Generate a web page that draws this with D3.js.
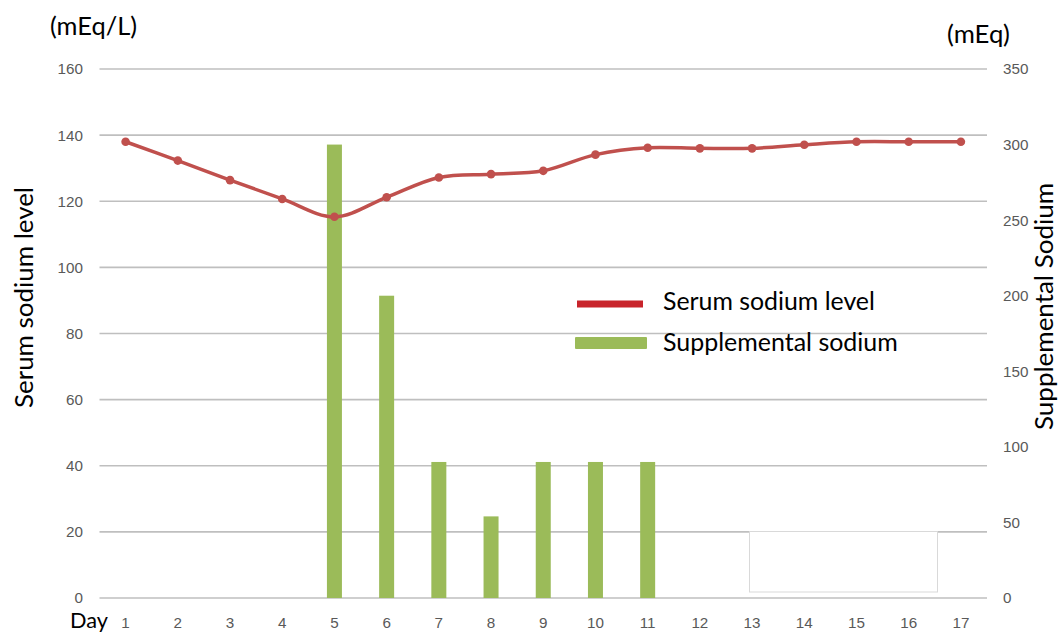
<!DOCTYPE html>
<html>
<head>
<meta charset="utf-8">
<script src="https://cdn.jsdelivr.net/npm/d3@7"></script>
<style>
  html, body { margin: 0; padding: 0; background: #fff; }
  svg { display: block; font-family: Lato, "Open Sans", sans-serif; }
</style>
</head>
<body>
<svg id="chart" width="1060" height="632"></svg>
<script>
// ---- data ----
const days = [1, 2, 3, 4, 5, 6, 7, 8, 9, 10, 11, 12, 13, 14, 15, 16, 17];
const serumSodium = [138, 132.3, 126.4, 120.7, 115.3, 121.2, 127.2, 128.2, 129.2, 134.1, 136.2, 136, 136, 137.1, 138, 138, 138];
const supplementalSodium = [0, 0, 0, 0, 300, 200, 90, 54, 90, 90, 90, 0, 0, 0, 0, 0, 0];
const leftTicks = [0, 20, 40, 60, 80, 100, 120, 140, 160];
const rightTicks = [0, 50, 100, 150, 200, 250, 300, 350];
const seriesNames = ["Serum sodium level", "Supplemental sodium"];

// ---- layout ----
const svg = d3.select("#chart");
const plot = { left: 99.5, right: 987, top: 69, bottom: 598 };
const red = "#C0504D", green = "#9BBB59", grid = "#BFBFBF", tickCol = "#595959";

// size a text so that it spans the given width
function fit(sel, target) {
  const base = 20;
  sel.style("font-size", base + "px");
  const w = sel.node().getComputedTextLength();
  const fs = base * target / w;
  sel.style("font-size", fs + "px");
  return fs;
}

const x = d3.scaleBand().domain(days).range([plot.left, plot.right]).padding(0);
const yL = d3.scaleLinear().domain([0, 160]).range([plot.bottom, plot.top]);
const yR = d3.scaleLinear().domain([0, 350]).range([plot.bottom, plot.top]);

// tick font size from a probe
const probe = svg.append("text").text("160");
const tickFs = fit(probe, 26.5);
probe.remove();

// gridlines
svg.append("g").selectAll("line").data(leftTicks).join("line")
  .attr("x1", plot.left).attr("x2", plot.right)
  .attr("y1", d => yL(d)).attr("y2", d => yL(d))
  .attr("stroke", grid).attr("stroke-width", 1.6);

// left axis
const gL = svg.append("g").attr("transform", `translate(${plot.left},0)`)
  .call(d3.axisLeft(yL).tickValues(leftTicks).tickSize(0).tickPadding(16.5));
gL.select(".domain").remove();
gL.selectAll("text").attr("fill", tickCol).style("font-size", tickFs + "px");

// right axis
const gR = svg.append("g").attr("transform", `translate(${plot.right},0)`)
  .call(d3.axisRight(yR).tickValues(rightTicks).tickSize(0).tickPadding(16));
gR.select(".domain").remove();
gR.selectAll("text").attr("fill", tickCol).style("font-size", tickFs + "px");

// bottom axis
const gB = svg.append("g").attr("transform", `translate(0,${plot.bottom})`)
  .call(d3.axisBottom(x).tickSize(0).tickPadding(0));
gB.select(".domain").remove();
gB.selectAll("text").attr("fill", tickCol).style("font-size", tickFs + "px")
  .attr("dy", null).attr("y", 30);

// bars
const bw = 15;
svg.append("g").selectAll("rect").data(days.map((d, i) => ({ d, v: supplementalSodium[i] })).filter(o => o.v > 0))
  .join("rect")
  .attr("x", o => x(o.d) + x.bandwidth() / 2 - bw / 2)
  .attr("width", bw)
  .attr("y", o => yR(o.v))
  .attr("height", o => yR(0) - yR(o.v))
  .attr("fill", green);

// line
const pts = days.map((d, i) => [x(d) + x.bandwidth() / 2, yL(serumSodium[i])]);
svg.append("path").datum(pts)
  .attr("d", d3.line().curve(d3.curveCatmullRom.alpha(0.5)))
  .attr("fill", "none").attr("stroke", red).attr("stroke-width", 3.5);
svg.append("g").selectAll("circle").data(pts).join("circle")
  .attr("cx", p => p[0]).attr("cy", p => p[1]).attr("r", 4.3).attr("fill", red);

// legend
const lg = svg.append("g");
lg.append("rect").attr("x", 577).attr("y", 300.5).attr("width", 66).attr("height", 7).attr("fill", "#C8242B");
lg.append("rect").attr("x", 575).attr("y", 337).attr("width", 72).attr("height", 12).attr("rx", 1).attr("fill", green);
fit(lg.append("text").attr("x", 663).attr("y", 310).text(seriesNames[0]).attr("fill", "#000"), 212);
fit(lg.append("text").attr("x", 663).attr("y", 351).text(seriesNames[1]).attr("fill", "#000"), 235);

// unit labels
fit(svg.append("text").attr("x", 50).attr("y", 35).text("(mEq/L)").attr("fill", "#000"), 87);
fit(svg.append("text").attr("x", 947).attr("y", 43).text("(mEq)").attr("fill", "#000"), 63);
fit(svg.append("text").attr("x", 70).attr("y", 628).text("Day").attr("fill", "#000"), 38);

// axis titles
fit(svg.append("text").attr("transform", "translate(33,297.5) rotate(-90)").attr("text-anchor", "middle")
  .text("Serum sodium level").attr("fill", "#000"), 221);
fit(svg.append("text").attr("transform", "translate(1053,306.5) rotate(-90)").attr("text-anchor", "middle")
  .text("Supplemental Sodium").attr("fill", "#000"), 247);

// white box overlay (present in the original)
svg.append("rect").attr("x", 749.5).attr("y", 531.5).attr("width", 188).attr("height", 60.5)
  .attr("fill", "#fff").attr("stroke", "#D9D9D9").attr("stroke-width", 1);
</script>
</body>
</html>
